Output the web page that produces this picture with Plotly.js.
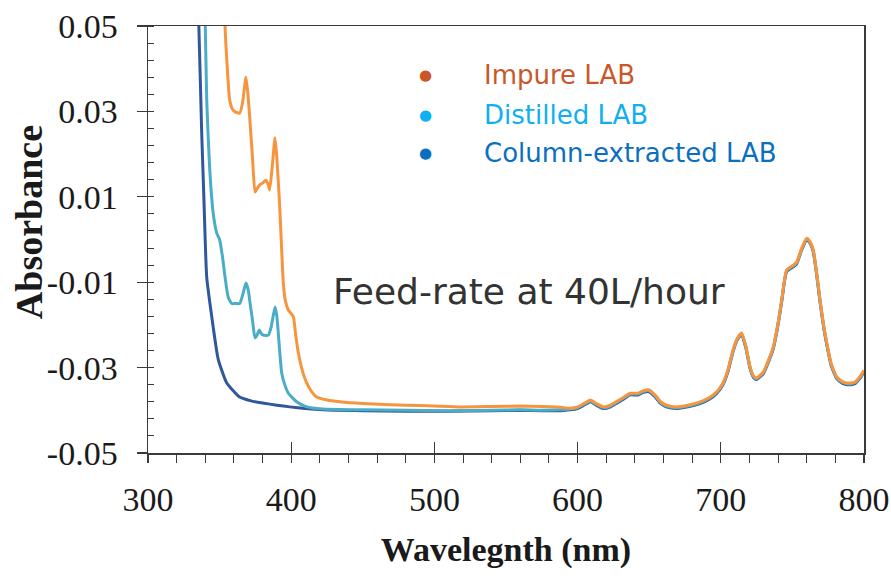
<!DOCTYPE html>
<html><head><meta charset="utf-8">
<script src="https://cdn.plot.ly/plotly-3.0.1.min.js"></script>
<style>html,body{margin:0;padding:0;background:#fff}#chart{width:891px;height:576px}</style>
</head><body><div id="chart"></div>
<script>
// ---- data ----
const seriesNames = ["Impure LAB", "Distilled LAB", "Column-extracted LAB"];

const impureWl  = [352.5,353.8,355.4,357,359,360.8,364,366,368.4,369.8,371,373,374.7,376,378,380,382.4,384,385,387,388.7,390,392,394.5,396,398,401.5,403,405,408,410.8,414,417.8,425,434,450,480,500,518,540,560,575,588];
const impureAbs = [0.07,0.05,0.040,0.0327,0.0305,0.0299,0.0296,0.032,0.038,0.034,0.0287,0.019,0.0111,0.0118,0.0128,0.0132,0.0139,0.0128,0.0116,0.018,0.0238,0.019,0.0076,-0.0102,-0.0145,-0.0165,-0.0181,-0.022,-0.0266,-0.031,-0.0336,-0.0355,-0.0369,-0.0376,-0.0380,-0.0384,-0.0388,-0.0390,-0.0392,-0.0391,-0.0390,-0.0391,-0.0393];

const distilledWl  = [338,340,341,343,345.5,348,350,352,353.8,356,358.5,361,364,366.5,368.4,370,371,373,374.7,376,377.7,379,380.5,384,386,388.7,390,391,393.4,396,398,403.8,410.8,422,450,480,510,540,560,575,588];
const distilledAbs = [0.07,0.05,0.0327,0.017,0.0062,0.0015,0.0,-0.004,-0.0088,-0.0135,-0.015,-0.0150,-0.0150,-0.0125,-0.0102,-0.0118,-0.0142,-0.019,-0.023,-0.0225,-0.0212,-0.0220,-0.0224,-0.0224,-0.0205,-0.0158,-0.018,-0.022,-0.0313,-0.0345,-0.036,-0.038,-0.0392,-0.0397,-0.0399,-0.0400,-0.0401,-0.0400,-0.0399,-0.0400,-0.0399];

const columnWl  = [333,335.5,337.5,339,341,344.5,349,355,364,372,380,390,399,410,422,450,480,510,540,560,575,588];
const columnAbs = [0.07,0.05,0.025,0.010,-0.0088,-0.018,-0.028,-0.0336,-0.0369,-0.0378,-0.0383,-0.0388,-0.0392,-0.0396,-0.0399,-0.0401,-0.0402,-0.0402,-0.0401,-0.0400,-0.0401,-0.0401];

const tailWl = [595,600,605,609,613,618,623,627,632,636.6,642,646,649.5,654,658,662,669,677,685,692,697,701.5,705,708.5,711.5,714.5,717.5,720.5,723,725,729.7,733,736.6,740,742.5,746,750.6,753,756.5,760,762,764.6,767,769.3,772,774,777,781,785,788,791,794,797,800];
const impureTailAbs = [-0.0395,-0.0392,-0.0383,-0.0376,-0.0384,-0.0392,-0.0388,-0.0380,-0.0370,-0.0360,-0.0360,-0.0354,-0.0352,-0.0364,-0.0380,-0.0388,-0.0392,-0.0388,-0.0381,-0.0370,-0.0357,-0.0336,-0.0305,-0.0259,-0.0232,-0.0219,-0.0250,-0.0299,-0.0320,-0.0324,-0.0310,-0.0285,-0.0252,-0.0195,-0.0142,-0.0071,-0.0060,-0.0053,-0.0020,0.0003,-0.0003,-0.0025,-0.0080,-0.0142,-0.0205,-0.0242,-0.0290,-0.0322,-0.0333,-0.0336,-0.0336,-0.0333,-0.0322,-0.0306];
const distilledTailAbs = [-0.0397,-0.0394,-0.0385,-0.0378,-0.0386,-0.0394,-0.0390,-0.0382,-0.0372,-0.0362,-0.0362,-0.0356,-0.0354,-0.0366,-0.0382,-0.0390,-0.0394,-0.0390,-0.0383,-0.0372,-0.0359,-0.0338,-0.0307,-0.0261,-0.0233,-0.0220,-0.0252,-0.0301,-0.0322,-0.0326,-0.0312,-0.0287,-0.0254,-0.0197,-0.0144,-0.0073,-0.0062,-0.0055,-0.0022,0.0001,-0.0005,-0.0027,-0.0082,-0.0144,-0.0207,-0.0244,-0.0292,-0.0324,-0.0335,-0.0338,-0.0338,-0.0335,-0.0324,-0.0308];
const columnTailAbs = [-0.0399,-0.0396,-0.0387,-0.0380,-0.0388,-0.0396,-0.0392,-0.0384,-0.0374,-0.0364,-0.0364,-0.0358,-0.0356,-0.0368,-0.0384,-0.0392,-0.0396,-0.0392,-0.0385,-0.0374,-0.0361,-0.0340,-0.0309,-0.0263,-0.0235,-0.0222,-0.0254,-0.0303,-0.0324,-0.0328,-0.0314,-0.0289,-0.0256,-0.0199,-0.0146,-0.0075,-0.0064,-0.0057,-0.0024,-0.0001,-0.0007,-0.0029,-0.0084,-0.0146,-0.0209,-0.0246,-0.0294,-0.0326,-0.0337,-0.0340,-0.0340,-0.0337,-0.0326,-0.0310];

const xTickVals = [300,400,500,600,700,800];
const yTickVals = [-0.05,-0.03,-0.01,0.01,0.03,0.05];
const yTickText = ["-0.05","-0.03","-0.01","0.01","0.03","0.05"];

// ---- styles ----
const lineColors = ["#F7953E", "#4AADC8", "#30579B"];
const legendColors = ["#C9572A", "#0FB0EE", "#0A6FC0"];
const axisColor = "#3a3a3a";

const mk = (x, y, c, name) => ({x, y, type: "scatter", mode: "lines", name,
  line: {color: c, width: 3, shape: "spline", smoothing: 0.5}, showlegend: false, hoverinfo: "skip"});

const traces = [
  mk(columnWl.concat(tailWl), columnAbs.concat(columnTailAbs), lineColors[2], seriesNames[2]),
  mk(distilledWl.concat(tailWl), distilledAbs.concat(distilledTailAbs), lineColors[1], seriesNames[1]),
  mk(impureWl.concat(tailWl), impureAbs.concat(impureTailAbs), lineColors[0], seriesNames[0]),
  {x: [], y: [], xaxis: "x2", yaxis: "y2", type: "scatter", showlegend: false}
];

const serif = "Liberation Serif, Times New Roman, serif";
const tickFont = {family: serif, size: 34, color: "#1a1a1a"};

const legY = [0.885, 0.792, 0.703];
const annotations = [];
for (let i = 0; i < 3; i++) {
  annotations.push({xref: "paper", yref: "paper", x: 0.387, y: legY[i], text: "●", showarrow: false,
    xanchor: "center", yanchor: "middle", font: {family: "DejaVu Sans", size: 15, color: legendColors[i]}});
  annotations.push({xref: "paper", yref: "paper", x: 0.466, y: legY[i], text: seriesNames[i], showarrow: false,
    xanchor: "left", yanchor: "middle", font: {family: "DejaVu Sans, Verdana, sans-serif", size: 26, color: legendColors[i]}});
}
annotations.push({xref: "paper", yref: "paper", x: 0.255, y: 0.379, text: "Feed-rate at 40L/hour", showarrow: false,
  xanchor: "left", yanchor: "middle", font: {family: "DejaVu Sans, Verdana, sans-serif", size: 36, color: "#333333"}});
annotations.push({xref: "paper", yref: "paper", x: -0.166, y: 0.541, text: "Absorbance", textangle: -90, showarrow: false,
  xanchor: "center", yanchor: "middle", font: {family: serif, size: 38, color: "#1a1a1a", weight: "bold"}});

const layout = {
  width: 891, height: 576,
  margin: {l: 148, r: 27, t: 26, b: 123, pad: 0},
  paper_bgcolor: "#fff", plot_bgcolor: "#fff",
  showlegend: false,
  xaxis: {range: [300, 800], tickvals: xTickVals, ticks: "outside", ticklen: 8, tickwidth: 1.3, tickcolor: axisColor,
    minor: {dtick: 20, ticks: "outside", ticklen: 8, tickwidth: 1, tickcolor: axisColor},
    showline: true, linecolor: axisColor, linewidth: 1.5, mirror: true, showgrid: false, zeroline: false,
    tickfont: tickFont, ticklabelstandoff: 8,
    title: {text: "Wavelegnth (nm)", font: {family: serif, size: 34, color: "#1a1a1a", weight: "bold"}, standoff: 20}},
  yaxis: {range: [-0.05, 0.05], tickvals: yTickVals, ticktext: yTickText, ticks: "outside", ticklen: 10, tickwidth: 1.3, tickcolor: axisColor,
    minor: {dtick: 0.004, tick0: -0.05, ticks: "inside", ticklen: 6, tickwidth: 1, tickcolor: axisColor},
    showline: true, linecolor: axisColor, linewidth: 1.5, mirror: true, showgrid: false, zeroline: false,
    tickfont: tickFont, ticklabelstandoff: 12},
  xaxis2: {overlaying: "x", anchor: "y2", range: [300, 800], tickvals: xTickVals, ticks: "inside", ticklen: 11, tickwidth: 1.3,
    tickcolor: axisColor, showticklabels: false, showline: false, showgrid: false, zeroline: false},
  yaxis2: {overlaying: "y", anchor: "x2", range: [-0.05, 0.05], tickvals: yTickVals, ticks: "inside", ticklen: 6, tickwidth: 1.3,
    tickcolor: axisColor, showticklabels: false, showline: false, showgrid: false, zeroline: false},
  annotations
};

Plotly.newPlot("chart", traces, layout, {staticPlot: true, displayModeBar: false});
</script>
</body></html>
